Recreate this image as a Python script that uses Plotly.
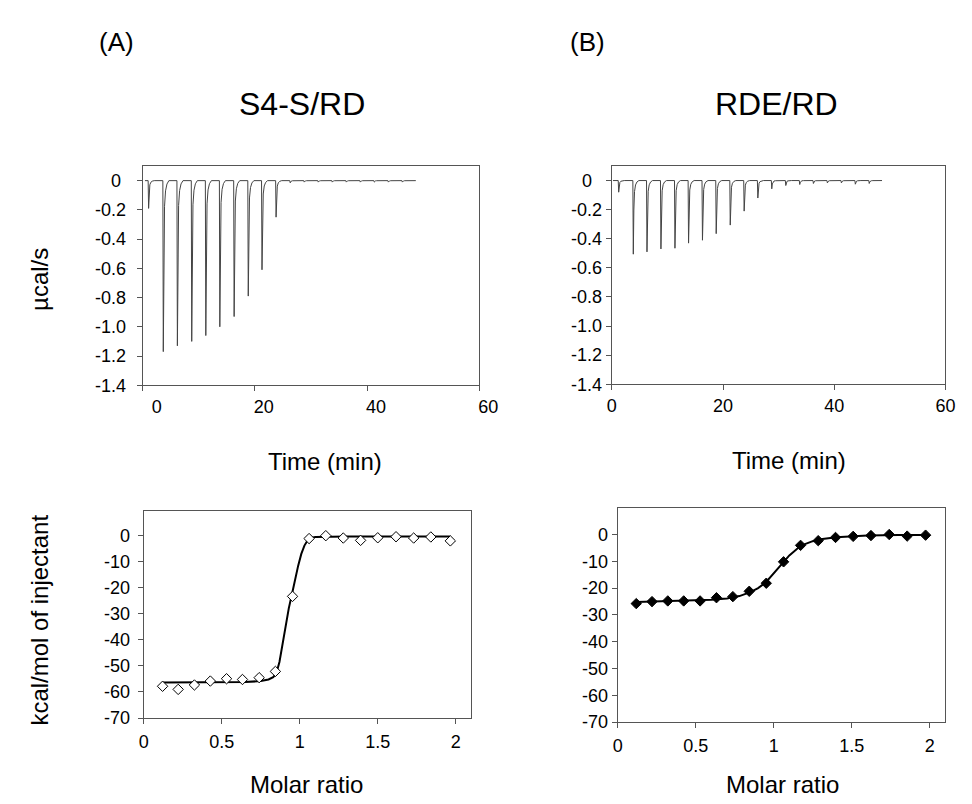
import plotly.graph_objects as go

# ---------------- DATA ----------------
# Raw ITC thermograms (injection times in min, peak heights in µcal/s)
inj_time_A = [1.05, 3.67, 6.18, 8.74, 11.25, 13.75, 16.30, 18.82, 21.27, 23.78,
              26.30, 28.80, 31.30, 33.80, 36.30, 38.80, 41.30, 43.80, 46.30]
peak_A = [-0.19, -1.17, -1.13, -1.10, -1.06, -1.00, -0.93, -0.79, -0.61, -0.25,
          -0.015, -0.01, -0.01, -0.01, -0.01, -0.01, -0.01, -0.01, -0.01]
run_span_A = [0.4, 48.7]

inj_time_B = [1.23, 3.86, 6.32, 8.83, 11.35, 13.80, 16.30, 18.77, 21.30, 23.80,
              26.26, 28.77, 31.29, 33.80, 36.26, 38.77, 41.29, 43.80, 46.30]
peak_B = [-0.08, -0.506, -0.49, -0.47, -0.465, -0.43, -0.41, -0.365, -0.306, -0.21,
          -0.12, -0.057, -0.034, -0.027, -0.02, -0.016, -0.016, -0.025, -0.02]
run_span_B = [0.2, 48.6]

# Integrated heats (kcal/mol of injectant) vs molar ratio
molar_A = [0.121, 0.221, 0.325, 0.427, 0.531, 0.633, 0.740, 0.844, 0.954, 1.060,
           1.167, 1.279, 1.390, 1.500, 1.617, 1.730, 1.840, 1.965]
heat_A = [-57.8, -59.0, -57.3, -55.8, -54.9, -55.2, -54.5, -52.1, -23.3, -1.1,
          0.0, -0.9, -1.8, -0.8, -0.4, -0.9, -0.5, -2.0]
fit_x_A = [0.12, 0.30, 0.50, 0.65, 0.75, 0.80, 0.83, 0.85, 0.87, 0.89, 0.91, 0.93,
           0.95, 0.97, 0.99, 1.01, 1.03, 1.05, 1.07, 1.10, 1.15, 1.30, 1.60, 1.965]
fit_y_A = [-56.4, -56.4, -56.3, -56.2, -55.8, -55.2, -54.3, -52.8, -48.5, -41.5, -34.0, -27.8,
           -22.5, -16.5, -11.5, -7.0, -3.8, -1.8, -0.9, -0.5, -0.4, -0.3, -0.3, -0.3]

molar_B = [0.119, 0.220, 0.321, 0.423, 0.528, 0.633, 0.738, 0.843, 0.952, 1.063,
           1.172, 1.285, 1.396, 1.509, 1.623, 1.740, 1.855, 1.973]
heat_B = [-25.8, -25.05, -24.8, -24.8, -24.8, -23.6, -23.2, -21.2, -18.2, -10.2,
          -4.05, -2.3, -1.1, -0.7, -0.4, 0.0, -0.6, -0.25]
fit_x_B = [0.12, 0.30, 0.50, 0.60, 0.70, 0.78, 0.85, 0.90, 0.95, 1.00, 1.05, 1.10,
           1.15, 1.20, 1.25, 1.30, 1.40, 1.50, 1.60, 1.80, 1.973]
fit_y_B = [-25.2, -25.0, -24.7, -24.4, -23.9, -23.0, -21.5, -20.0, -17.8, -14.5, -11.0, -7.8,
           -5.3, -3.6, -2.5, -1.8, -1.0, -0.6, -0.4, -0.2, -0.15]

time_ticks = [0, 20, 40, 60]
power_ticks = [-1.4, -1.2, -1.0, -0.8, -0.6, -0.4, -0.2, 0]
power_labels = ["-1.4", "-1.2", "-1.0", "-0.8", "-0.6", "-0.4", "-0.2", "0"]
ratio_ticks = [0, 0.5, 1, 1.5, 2]
ratio_labels = ["0", "0.5", "1", "1.5", "2"]
heat_ticks = [-70, -60, -50, -40, -30, -20, -10, 0]
heat_labels = ["-70", "-60", "-50", "-40", "-30", "-20", "-10", "0"]

# peak drawing template (style of each injection spike)
PEAK_DT = [-0.08, 0.0, 0.10, 0.22, 0.40, 0.65, 1.0]
PEAK_FRAC = [0.0, 1.0, 0.40, 0.15, 0.06, 0.02, 0.0]


def thermogram(times, peaks, span):
    xs, ys = [span[0]], [0.0]
    for t, p in zip(times, peaks):
        for dt, f in zip(PEAK_DT, PEAK_FRAC):
            xs.append(t + dt)
            ys.append(p * f)
    xs.append(span[1])
    ys.append(0.0)
    return xs, ys


W, H = 972, 804
FONT = "Liberation Sans, Arial, sans-serif"
FRAME = "#555555"
NB = "\u00a0"

fig = go.Figure()

xa, ya = thermogram(inj_time_A, peak_A, run_span_A)
xb, yb = thermogram(inj_time_B, peak_B, run_span_B)
fig.add_trace(go.Scatter(x=xa, y=ya, mode="lines", line=dict(color="#444444", width=1),
                         xaxis="x", yaxis="y", showlegend=False))
fig.add_trace(go.Scatter(x=xb, y=yb, mode="lines", line=dict(color="#444444", width=1),
                         xaxis="x2", yaxis="y2", showlegend=False))

fig.add_trace(go.Scatter(x=fit_x_A, y=fit_y_A, mode="lines", line=dict(color="black", width=2),
                         xaxis="x3", yaxis="y3", showlegend=False))
fig.add_trace(go.Scatter(x=molar_A, y=heat_A, mode="markers",
                         marker=dict(symbol="diamond", size=8, color="white",
                                     line=dict(color="black", width=1)),
                         xaxis="x3", yaxis="y3", showlegend=False))
fig.add_trace(go.Scatter(x=fit_x_B, y=fit_y_B, mode="lines", line=dict(color="black", width=2),
                         xaxis="x4", yaxis="y4", showlegend=False))
fig.add_trace(go.Scatter(x=molar_B, y=heat_B, mode="markers",
                         marker=dict(symbol="diamond", size=8, color="black",
                                     line=dict(color="black", width=1)),
                         xaxis="x4", yaxis="y4", showlegend=False))


def px_x(a, b):
    return [a / W, b / W]


def px_y(top, bottom):
    return [1 - bottom / H, 1 - top / H]


common = dict(showline=True, mirror=True, linecolor=FRAME, linewidth=1.2,
              ticks="outside", ticklen=5, tickcolor=FRAME, tickwidth=1.2,
              showgrid=False, zeroline=False,
              tickfont=dict(family=FONT, size=18, color="black"))

fig.update_layout(
    width=W, height=H, margin=dict(l=0, r=0, t=0, b=0, pad=0),
    paper_bgcolor="white", plot_bgcolor="white", showlegend=False,
    xaxis=dict(domain=px_x(133, 478), range=[0, 60], tickvals=time_ticks,
               ticktext=[NB + NB + "0", "20", "40", "60"], ticklabelshift=9,
               anchor="y", **common),
    yaxis=dict(domain=px_y(160, 382), range=[-1.4, 0.1], tickvals=power_ticks,
               ticktext=power_labels[:-1] + ["0" + NB], ticklabelstandoff=7,
               anchor="x", **common),
    xaxis2=dict(domain=px_x(614, 956), range=[0, 60], tickvals=time_ticks,
                anchor="y2", **common),
    yaxis2=dict(domain=px_y(160, 381), range=[-1.4, 0.1], tickvals=power_ticks,
                ticktext=power_labels[:-1] + ["0" + NB + NB], anchor="x2", **common),
    xaxis3=dict(domain=px_x(134, 470), range=[0, 2.1], tickvals=ratio_ticks,
                ticktext=ratio_labels, ticklabelstandoff=2, anchor="y3", **common),
    yaxis3=dict(domain=px_y(509, 719), range=[-70, 9.6], tickvals=heat_ticks,
                ticktext=heat_labels, ticklabelstandoff=4, anchor="x3", **common),
    xaxis4=dict(domain=px_x(620, 956), range=[0, 2.1], tickvals=ratio_ticks,
                ticktext=ratio_labels, ticklabelstandoff=2, anchor="y4", **common),
    yaxis4=dict(domain=px_y(506, 723), range=[-70, 10], tickvals=heat_ticks,
                ticktext=heat_labels, anchor="x4", **common),
)


def ann(text, x, y, size, angle=0):
    fig.add_annotation(text=text, x=x / W, y=1 - y / H, xref="paper", yref="paper",
                       xanchor="center", yanchor="middle", showarrow=False,
                       textangle=angle, font=dict(family=FONT, size=size, color="black"))


ann("(A)", 106, 34, 26)
ann("(B)", 589, 34, 26)
ann("S4-S/RD", 296, 97, 32)
ann("RDE/RD", 783, 97, 32)
ann("µcal/s", 27, 275, 24, -90)
ann("kcal/mol of injectant", 27, 620, 24, -90)
ann("Time (min)", 320, 459, 24)
ann("Time (min)", 796, 458, 24)
ann("Molar ratio", 301, 786, 24)
ann("Molar ratio", 789, 786, 24)

fig.write_html("out.html")
